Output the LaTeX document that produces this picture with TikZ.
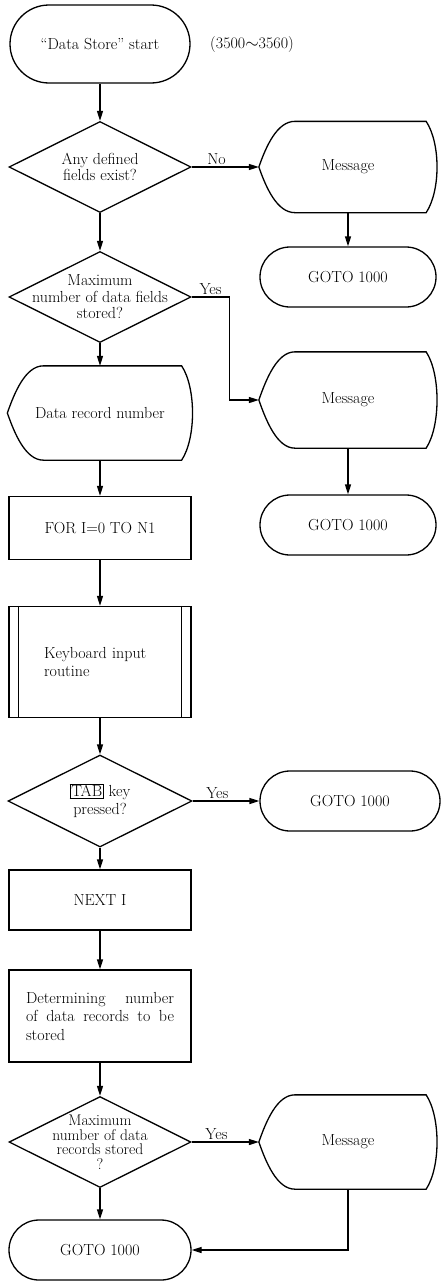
\documentclass[tikz,border=0pt]{standalone}
\usepackage{fontspec}
\usepackage{tikz}
\usetikzlibrary{arrows.meta, positioning, shapes.geometric, shapes.misc}

\setlength{\fboxsep}{1pt}
\setlength{\fboxrule}{0.6pt}

\newcommand{\nodefont}{\fontsize{16}{18.5}\selectfont}
\newcommand{\askfont}{\fontsize{16}{16.5}\selectfont}

% outline of a display symbol drawn round a (borderless) node
\newcommand{\dispframe}[1]{%
  \draw (#1.west)
    .. controls +(7,20) and +(-18,0) .. ([xshift=36pt]#1.north west)
    -- ([xshift=-11pt]#1.north east)
    .. controls +(14.5,-22) and +(14.5,22) .. ([xshift=-11pt]#1.south east)
    -- ([xshift=36pt]#1.south west)
    .. controls +(-18,0) and +(7,-20) .. cycle;}

\begin{document}
\begin{tikzpicture}[
    x=1pt, y=1pt, line width=1.3pt,
    font=\nodefont,
    term/.style={draw, rounded rectangle, minimum width=#1, minimum height=60pt, inner sep=0pt},
    proc/.style={draw, rectangle, minimum width=182pt, minimum height=#1, inner sep=0pt},
    decision/.style={draw, diamond, minimum width=182pt, minimum height=91pt, inner sep=0pt},
    ask/.style={align=center, font=\askfont},
    disp/.style={rectangle, minimum width=177pt, minimum height=#1, inner sep=0pt},
    arr/.style={-{Triangle[length=10pt, width=6pt]}},
    lbl/.style={above, inner sep=2pt},
]
    \useasboundingbox (0,0) rectangle (442,-1282);

    % Main column
    \node[term=180pt, minimum height=78pt] (start) at (100,-44) {``Data Store'' start};
    \node (range) at (252,-45) {(3500$\sim$3560)};
    \node[decision, label={[ask]center:{Any defined\\fields exist?}}] (q1) at (100,-167) {};
    \node[decision, label={[ask]center:{Maximum\\number of data fields\\stored?}}] (q2) at (100,-297) {};
    \node[disp=93pt, minimum width=184pt] (rec) at (100,-413) {Data record number};
    \node[proc=63pt] (for) at (100,-528) {FOR I=0 TO N1};
    \node[proc=111pt, text width=112pt, align=left] (kbd) at (100,-662) {Keyboard input\\routine};
    \node[decision, minimum width=184pt, minimum height=92pt,
          label={[ask, font=\fontsize{16}{18}\selectfont]center:{\fbox{TAB} key\\pressed?}}] (q3) at (100,-801) {};
    \node[proc=60pt] (next) at (100,-900) {NEXT I};
    \node[proc=92pt, text width=148pt, align=left] (det) at (100,-1016)
        {Determining\hfill number\\of\hfill data\hfill records\hfill to\hfill be\\stored};
    \node[decision, label={[ask, font=\fontsize{15.5}{14.5}\selectfont]center:{Maximum\\number of data\\records stored\\?}}] (q4) at (100,-1142) {};
    \node[term=182pt] (g4) at (100,-1250) {GOTO 1000};

    % Right column
    \node[disp=90pt] (m1) at (348,-167) {Message};
    \node[term=176pt] (g1) at (348,-277) {GOTO 1000};
    \node[disp=95pt] (m2) at (348,-400) {Message};
    \node[term=176pt] (g2) at (348,-525) {GOTO 1000};
    \node[term=180pt] (g3) at (350,-801) {GOTO 1000};
    \node[disp=93pt] (m3) at (348,-1142) {Message};

    % Display outlines
    \dispframe{rec}
    \dispframe{m1}
    \dispframe{m2}
    \dispframe{m3}

    % Predefined process bars
    \draw ([xshift=10pt]kbd.north west) -- ([xshift=10pt]kbd.south west);
    \draw ([xshift=-10pt]kbd.north east) -- ([xshift=-10pt]kbd.south east);

    % Flow arrows
    \draw[arr] (start.south) -- (q1.north);
    \draw[arr] (q1.south) -- (q2.north);
    \draw[arr] (q2.south) -- (rec.north);
    \draw[arr] (rec.south) -- (for.north);
    \draw[arr] (for.south) -- (kbd.north);
    \draw[arr] (kbd.south) -- (q3.north);
    \draw[arr] (q3.south) -- (next.north);
    \draw[arr] (next.south) -- (det.north);
    \draw[arr] (det.south) -- (q4.north);
    \draw[arr] (q4.south) -- (g4.north);

    % Branches
    \draw[arr] (q1.east) -- node[lbl, pos=0.37] {No} (m1.west);
    \draw[arr] (m1.south) -- (g1.north);
    \draw[arr] (q2.east) -- node[lbl] {Yes} ([xshift=38pt]q2.east) |- (m2.west);
    \draw[arr] (m2.south) -- (g2.north);
    \draw[arr] (q3.east) -- node[lbl, pos=0.37] {Yes} (g3.west);
    \draw[arr] (q4.east) -- node[lbl, pos=0.37] {Yes} (m3.west);
    \draw[arr] (m3.south) |- (g4.east);
\end{tikzpicture}
\end{document}
